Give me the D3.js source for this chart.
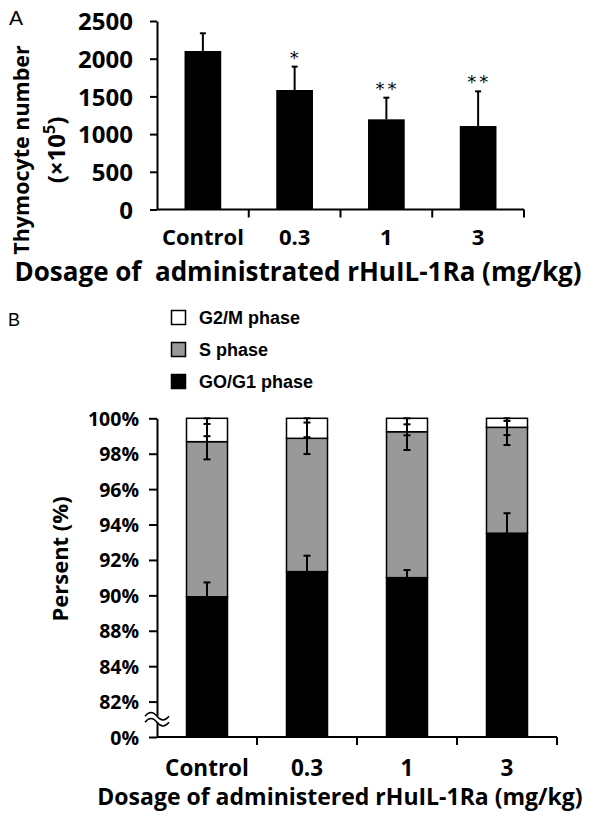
<!DOCTYPE html>
<html>
<head>
<meta charset="utf-8">
<script src="https://cdn.jsdelivr.net/npm/d3@7"></script>
<style>
  body { margin: 0; background: #fff; }
  svg text { font-family: "Open Sans", Lato, sans-serif; font-weight: bold; fill: #000; }
</style>
</head>
<body>
<svg id="chart" width="600" height="820"></svg>
<script>
// ---- panel A: thymocyte counts
let doses = ['Control', '0.3', '1', '3']
let thymocytes = [2102, 1585, 1196, 1107]
let thymocyteErr = [235, 310, 287, 460]
let signif = ['', '*', '**', '**']
let yTicksA = [0, 500, 1000, 1500, 2000, 2500]

// ---- panel B: cell cycle phases (%)
let phases = ['G2/M phase', 'S phase', 'GO/G1 phase']
let g0g1 = [89.92, 91.34, 91.0, 93.51]
let sPhase = [8.76, 7.53, 8.24, 5.98]
let g2m = [1.32, 1.13, 0.76, 0.51]
let g0g1Err = [0.81, 0.9, 0.43, 1.13]
let sPhaseErr = [1.0, 0.89, 1.03, 1.0]
let g2mErrAt = [99.68, 99.55, 99.35, 99.45]
let g2mErr = [0.69, 0.62, 0.31, 0.40]
let yTicksB = [100, 98, 96, 94, 92, 90, 88, 86, 84, 82]
let yTickLabelsB = ['100%', '98%', '96%', '94%', '92%', '90%', '88%', '84%', '82%', '0%']

let svg = d3.select('#chart')

// panel letters
svg.append('text').attr('x', 9).attr('y', 25)
  .style('font-family', '"Liberation Sans", Arial').style('font-weight', 'normal')
  .attr('font-size', '21px').text('A')
svg.append('text').attr('x', 8).attr('y', 326)
  .style('font-family', '"Liberation Sans", Arial').style('font-weight', 'normal')
  .attr('font-size', '18px').text('B')

// ================= panel A
let xA = d3.scaleBand().domain(doses).range([157, 524]).paddingInner(0.6).paddingOuter(0.3)
let yA = d3.scaleLinear().domain([0, 2500]).range([209.5, 21])

let gA = svg.append('g')

let yAxisA = gA.append('g')
  .attr('transform', 'translate(157,0)')
  .call(d3.axisLeft(yA).tickValues(yTicksA).tickSize(7).tickSizeOuter(0).tickPadding(17)
    .tickFormat(d3.format('d')))
yAxisA.attr('font-family', null).attr('font-size', null)
yAxisA.selectAll('text').attr('font-size', '24px').attr('dy', '0.36em')
yAxisA.selectAll('path, line').attr('stroke-width', 2)

let xAxisA = gA.append('g')
  .attr('transform', 'translate(0,209.5)')
  .call(d3.axisBottom(xA).tickSize(0).tickPadding(20))
xAxisA.attr('font-family', null).attr('font-size', null)
xAxisA.selectAll('text').attr('font-size', '22px')
xAxisA.select('.domain').attr('stroke-width', 2).attr('d', 'M157,0H' + 524)
for (let i = 1; i <= doses.length; i++) {
  let bx = xA.range()[0] + i * xA.step()
  xAxisA.append('line').attr('x1', bx).attr('x2', bx).attr('y1', 0).attr('y2', 8)
    .attr('stroke', '#000').attr('stroke-width', 2)
}

gA.selectAll('rect.barA')
  .data(thymocytes)
  .enter().append('rect')
  .attr('class', 'barA')
  .attr('x', (d, i) => xA(doses[i]))
  .attr('width', xA.bandwidth())
  .attr('y', d => yA(d))
  .attr('height', d => yA(0) - yA(d))
  .attr('fill', '#000')

// upper error bars
thymocytes.forEach(function(d, i) {
  let cx = xA(doses[i]) + xA.bandwidth() / 2
  let top = yA(d + thymocyteErr[i])
  gA.append('line').attr('x1', cx).attr('x2', cx).attr('y1', yA(d)).attr('y2', top)
    .attr('stroke', '#000').attr('stroke-width', 2)
  gA.append('line').attr('x1', cx - 3).attr('x2', cx + 3).attr('y1', top).attr('y2', top)
    .attr('stroke', '#000').attr('stroke-width', 2)
  if (signif[i]) {
    gA.append('text').attr('x', cx + 1).attr('y', top - 3)
      .attr('text-anchor', 'middle')
      .style('font-family', '"DejaVu Sans"').style('font-weight', 'normal')
      .attr('font-size', '18px').attr('letter-spacing', '3px')
      .text(signif[i])
  }
})

// axis titles
svg.append('text').attr('transform', 'translate(29,150) rotate(-90)')
  .attr('text-anchor', 'middle').attr('font-size', '21.5px').text('Thymocyte number')
let unit = svg.append('text').attr('transform', 'translate(65,150) rotate(-90)')
  .attr('text-anchor', 'middle').style('font-size', '24px')
unit.append('tspan').text('(×10')
unit.append('tspan').style('font-size', '16px').attr('dy', '-10').text('5')
unit.append('tspan').attr('dy', '10').text(')')

svg.append('text').attr('x', 298).attr('y', 281)
  .attr('text-anchor', 'middle').attr('font-size', '26px').attr('xml:space', 'preserve')
  .text('Dosage of  administrated rHuIL-1Ra (mg/kg)')

// ================= panel B
let xB = d3.scaleBand().domain(doses).range([157, 557]).paddingInner(0.59).paddingOuter(0.295)
let yB = d3.scaleLinear().domain([82, 100]).range([737, 418.3]).clamp(true)

let rowsB = doses.map((d, i) => ({dose: d, g0: g0g1[i], s: sPhase[i], g2: g2m[i]}))
let stack = d3.stack().keys(['g0', 's', 'g2'])(rowsB)
let fills = {g0: '#000', s: '#999', g2: '#fff'}

let gB = svg.append('g')

gB.selectAll('g.layer')
  .data(stack)
  .enter().append('g')
  .attr('class', 'layer')
  .attr('fill', d => fills[d.key])
  .selectAll('rect')
  .data(d => d)
  .enter().append('rect')
  .attr('x', d => xB(d.data.dose))
  .attr('width', xB.bandwidth())
  .attr('y', d => yB(d[1]))
  .attr('height', d => yB(d[0]) - yB(d[1]))
  .attr('stroke', '#000')
  .attr('stroke-width', 1.5)

// error bars
function errBar(cx, centre, e) {
  let y1 = yB(centre + e), y2 = yB(centre - e)
  gB.append('line').attr('x1', cx).attr('x2', cx).attr('y1', y1).attr('y2', y2)
    .attr('stroke', '#000').attr('stroke-width', 2)
  ;[y1, y2].forEach(yy => {
    gB.append('line').attr('x1', cx - 3.5).attr('x2', cx + 3.5).attr('y1', yy).attr('y2', yy)
      .attr('stroke', '#000').attr('stroke-width', 2)
  })
}
doses.forEach(function(d, i) {
  let cx = xB(d) + xB.bandwidth() / 2
  errBar(cx, g0g1[i], g0g1Err[i])
  errBar(cx, g0g1[i] + sPhase[i], sPhaseErr[i])
  errBar(cx, g2mErrAt[i], g2mErr[i])
})

let yAxisB = gB.append('g')
  .attr('transform', 'translate(157,0)')
  .call(d3.axisLeft(yB).tickValues(yTicksB).tickSize(8).tickSizeOuter(0).tickPadding(10)
    .tickFormat((d, i) => yTickLabelsB[i]))
yAxisB.attr('font-family', null).attr('font-size', null)
yAxisB.selectAll('text').attr('font-size', '19.5px').attr('dy', '0.36em')
yAxisB.selectAll('path, line').attr('stroke-width', 2)

let xAxisB = gB.append('g')
  .attr('transform', 'translate(0,737)')
  .call(d3.axisBottom(xB).tickSize(0).tickPadding(23))
xAxisB.attr('font-family', null).attr('font-size', null)
xAxisB.selectAll('text').attr('font-size', '22.5px')
xAxisB.select('.domain').attr('stroke-width', 2).attr('d', 'M157,0H' + 557)
for (let i = 1; i <= doses.length; i++) {
  let bx = xB.range()[0] + i * xB.step()
  xAxisB.append('line').attr('x1', bx).attr('x2', bx).attr('y1', 0).attr('y2', 8)
    .attr('stroke', '#000').attr('stroke-width', 2)
}

// axis break between 82% and 0%
let by = (yB(82) + yB(84)) / 2
let brk = gB.append('g').attr('transform', 'translate(157,' + by + ')')
brk.append('rect').attr('x', -3).attr('y', -3).attr('width', 6).attr('height', 6).attr('fill', '#fff')
;[-3, 3].forEach(off => {
  brk.append('path')
    .attr('d', 'M-12,' + off + ' c4,-5 8,-5 12,0 s8,5 12,0')
    .attr('fill', 'none').attr('stroke', '#000').attr('stroke-width', 1.5)
})

// legend
let legend = svg.append('g')
phases.forEach(function(p, i) {
  let ly = 310 + i * 32
  legend.append('rect').attr('x', 171.5).attr('y', ly + 0.5).attr('width', 14).attr('height', 14)
    .attr('fill', [fills.g2, fills.s, fills.g0][i]).attr('stroke', '#000').attr('stroke-width', 1.5)
  legend.append('text').attr('x', 199).attr('y', ly + 14)
    .style('font-family', '"Liberation Sans", Arial')
    .attr('font-size', '18px').text(p)
})

svg.append('text').attr('transform', 'translate(68,559) rotate(-90)')
  .attr('text-anchor', 'middle').attr('font-size', '22px').text('Persent (%)')

svg.append('text').attr('x', 340).attr('y', 805)
  .attr('text-anchor', 'middle').attr('font-size', '23px')
  .text('Dosage of administered rHuIL-1Ra (mg/kg)')
</script>
</body>
</html>
